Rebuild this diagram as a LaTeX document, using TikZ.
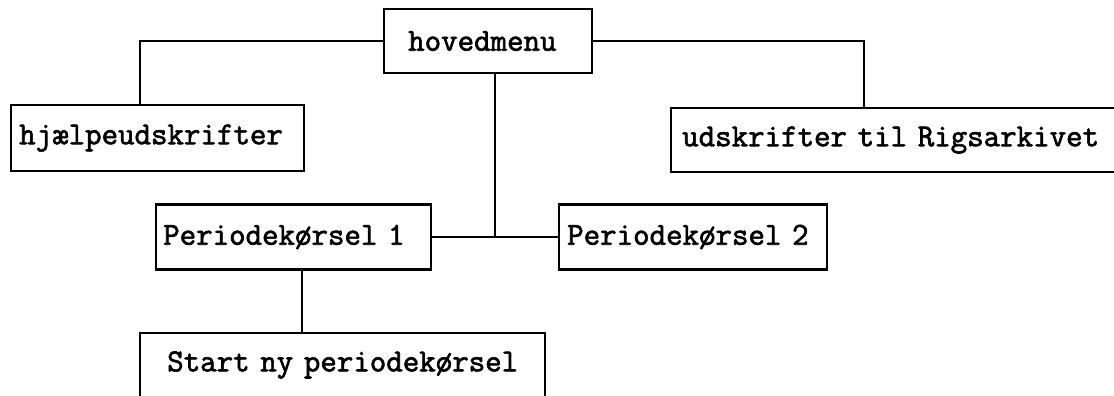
\documentclass[tikz,border=0pt]{standalone}
\usepackage{fontspec}
\newfontfamily\boxfont[FakeBold=2]{Latin Modern Mono}
\begin{document}
\begin{tikzpicture}[x=0.75pt,y=-0.75pt,
  box/.style={draw=black, line width=1.8pt, rectangle, inner ysep=0pt,
    anchor=west, align=left,
    font=\boxfont\fontsize{24}{26}\selectfont, text=black},
  link/.style={draw=black, line width=1.6pt}]
\useasboundingbox (0,0) rectangle (1114,396);
\fill[white] (0,0) rectangle (1114,396);
\node[box, minimum width=156pt, minimum height=48pt, inner xsep=18pt, text width=120pt] (hoved) at (383,41) {hovedmenu};
\node[box, minimum width=219.75pt, minimum height=49.5pt, inner xsep=6pt, text width=207.75pt] (hjaelp) at (10,138) {hjælpeudskrifter};
\node[box, minimum width=345pt, minimum height=48pt, inner xsep=8.25pt, text width=328.5pt] (udsk) at (670,140) {udskrifter til Rigsarkivet};
\node[box, minimum width=206.25pt, minimum height=49pt, inner xsep=5.25pt, text width=195.75pt] (p1) at (155,237) {Periodekørsel 1};
\node[box, minimum width=201pt, minimum height=49pt, inner xsep=6pt, text width=189pt] (p2) at (558,237) {Periodekørsel 2};
\node[box, align=center, minimum width=303.75pt, minimum height=48pt, inner xsep=12pt, text width=279.75pt] (start) at (139,365) {Start ny periodekørsel};
\coordinate (c1) at (140,41);
\coordinate (c2) at (864,41);
\coordinate (c3) at (495,237);
\coordinate (c4) at (302,300);
\draw[link] (hoved.west) -- (c1) -- (c1 |- hjaelp.north);
\draw[link] (hoved.east) -- (c2) -- (c2 |- udsk.north);
\draw[link] (c3 |- hoved.south) -- (c3);
\draw[link] (p1.east) -- (p2.west);
\draw[link] (c4 |- p1.south) -- (c4 |- start.north);
\end{tikzpicture}
\end{document}
